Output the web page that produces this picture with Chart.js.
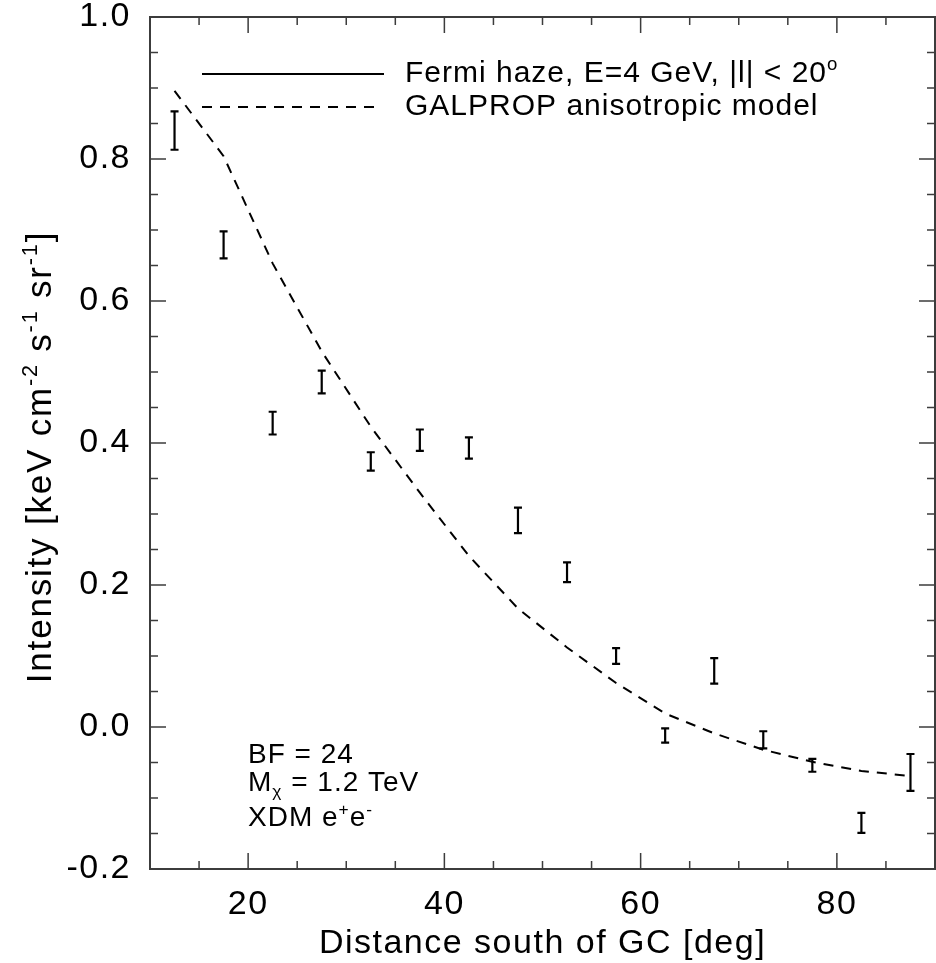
<!DOCTYPE html>
<html>
<head>
<meta charset="utf-8">
<script src="https://cdn.jsdelivr.net/npm/chart.js@4.4.1/dist/chart.umd.min.js"></script>
<style>
  html,body{margin:0;padding:0;background:#fff;}
  canvas{display:block;}
</style>
</head>
<body>
<canvas id="haze" width="936" height="963"></canvas>
<script>
/* Fermi haze profile vs. GALPROP model */

const distance   = [12.5,17.5,22.5,27.5,32.5,37.5,42.5,47.5,52.5,57.5,62.5,67.5,72.5,77.5,82.5,87.5];
const fermiHaze  = [0.840,0.679,0.428,0.486,0.374,0.404,0.393,0.291,0.218,0.100,-0.012,0.079,-0.018,-0.054,-0.135,-0.064];
const fermiErr   = [0.027,0.019,0.016,0.016,0.013,0.015,0.015,0.018,0.014,0.011,0.010,0.018,0.012,0.009,0.014,0.026];
const galprop    = [0.896,0.804,0.653,0.529,0.423,0.330,0.241,0.167,0.112,0.062,0.019,-0.009,-0.032,-0.049,-0.062,-0.069];

const xTicks      = [20,40,60,80];
const yTicks      = [-0.2,0.0,0.2,0.4,0.6,0.8,1.0];
const yTickLabels = ['-0.2','0.0','0.2','0.4','0.6','0.8','1.0'];

const FONT = '"Liberation Sans", Arial, Helvetica, sans-serif';
const AXIS = '#3c3c3c';

/* text with sub/superscripts, drawn left to right from x */
function richWidth(ctx, parts, size){
  let w = 0;
  parts.forEach(([t,m])=>{ ctx.font = `${m?size*0.62:size}px ${FONT}`; w += ctx.measureText(t).width; });
  return w;
}
function drawRich(ctx, parts, x, y, size){
  let cx = x;
  parts.forEach(([t,m])=>{
    const fs = m ? size*0.62 : size;
    ctx.font = `${fs}px ${FONT}`;
    const dy = m==='sup' ? -size*0.40 : m==='sub' ? size*0.22 : 0;
    ctx.fillText(t, cx, y+dy);
    cx += ctx.measureText(t).width;
  });
}

/* error bars through the chart scales */
const errorBars = {
  id:'errorBars',
  afterDatasetsDraw(chart){
    const {ctx, scales:{x,y}} = chart;
    ctx.save();
    ctx.strokeStyle = '#000'; ctx.lineWidth = 2.2;
    distance.forEach((d,i)=>{
      const px  = x.getPixelForValue(d);
      const top = y.getPixelForValue(fermiHaze[i]+fermiErr[i]);
      const bot = y.getPixelForValue(fermiHaze[i]-fermiErr[i]);
      ctx.beginPath();
      ctx.moveTo(px,top); ctx.lineTo(px,bot);
      ctx.moveTo(px-4,top); ctx.lineTo(px+4,top);
      ctx.moveTo(px-4,bot); ctx.lineTo(px+4,bot);
      ctx.stroke();
    });
    ctx.restore();
  }
};

/* IDL style frame: ticks pointing inward on all four sides */
const frame = {
  id:'frame',
  beforeDraw(chart){ chart.ctx.letterSpacing = '1.5px'; },
  afterDraw(chart){
    const {ctx, chartArea:a, scales:{x,y}} = chart;
    ctx.save();
    ctx.strokeStyle = AXIS; ctx.lineWidth = 2;
    ctx.strokeRect(a.left, a.top, a.right-a.left, a.bottom-a.top);
    ctx.lineWidth = 1.5;
    ctx.beginPath();
    for(let v=10; v<=90; v+=5){
      const px = x.getPixelForValue(v), len = v%20===0 ? 16 : 8;
      ctx.moveTo(px,a.bottom); ctx.lineTo(px,a.bottom-len);
      ctx.moveTo(px,a.top);    ctx.lineTo(px,a.top+len);
    }
    for(let k=0; k<=24; k++){
      const v = -0.2 + k*0.05, py = y.getPixelForValue(v), len = k%4===0 ? 16 : 8;
      ctx.moveTo(a.left,py);  ctx.lineTo(a.left+len,py);
      ctx.moveTo(a.right,py); ctx.lineTo(a.right-len,py);
    }
    ctx.stroke();

    ctx.fillStyle = '#000';
    ctx.letterSpacing = '1px';
    ctx.textBaseline = 'alphabetic'; ctx.textAlign = 'left';

    /* legend */
    ctx.strokeStyle = '#000'; ctx.lineWidth = 2;
    ctx.beginPath(); ctx.moveTo(a.left+52,74); ctx.lineTo(a.left+234,74); ctx.stroke();
    ctx.setLineDash([10,8]);
    ctx.beginPath(); ctx.moveTo(a.left+52,107); ctx.lineTo(a.left+226,107); ctx.stroke();
    ctx.setLineDash([]);
    drawRich(ctx, [['Fermi haze, E=4 GeV, |l| < 20',''],['o','sup']], a.left+255, 82, 30);
    drawRich(ctx, [['GALPROP anisotropic model','']], a.left+255, 115, 30);

    /* model parameters */
    drawRich(ctx, [['BF = 24','']], a.left+98, 763, 28);
    drawRich(ctx, [['M',''],['χ','sub'],[' = 1.2 TeV','']], a.left+98, 791, 28);
    drawRich(ctx, [['XDM e',''],['+','sup'],['e',''],['-','sup']], a.left+98, 826, 28);

    /* y axis title */
    const yTitle = [['Intensity [keV cm',''],['-2','sup'],[' s',''],['-1','sup'],[' sr',''],['-1','sup'],[']','']];
    ctx.letterSpacing = '1.8px';
    const w = richWidth(ctx, yTitle, 35);
    ctx.translate(51, (a.top+a.bottom)/2 + 14);
    ctx.rotate(-Math.PI/2);
    drawRich(ctx, yTitle, -w/2, 0, 35);
    ctx.restore();
  }
};

new Chart(document.getElementById('haze'), {
  type:'scatter',
  data:{
    datasets:[
      { label:'GALPROP anisotropic model', type:'line',
        data:distance.map((d,i)=>({x:d, y:galprop[i]})),
        borderColor:'#000', borderWidth:2, borderDash:[10,8],
        pointRadius:0, fill:false, tension:0 },
      { label:'Fermi haze, E=4 GeV',
        data:distance.map((d,i)=>({x:d, y:fermiHaze[i]})),
        pointRadius:0 }
    ]
  },
  options:{
    responsive:false, animation:false, events:[],
    layout:{padding:{top:17, right:1, left:0, bottom:0}},
    plugins:{legend:{display:false}, tooltip:{enabled:false}},
    scales:{
      x:{
        type:'linear', min:10, max:90,
        grid:{display:false}, border:{display:false},
        afterBuildTicks:s=>{ s.ticks = xTicks.map(v=>({value:v})); },
        afterFit:s=>{ s.height = 94; s.paddingLeft = 0; s.paddingRight = 0; },
        ticks:{color:'#000', padding:7, maxRotation:0, font:{family:FONT, size:34}},
        title:{display:true, text:'Distance south of GC [deg]', color:'#000',
               padding:{top:0,bottom:-1}, font:{family:FONT, size:34}}
      },
      y:{
        type:'linear', min:-0.2, max:1.0,
        grid:{display:false}, border:{display:false},
        afterBuildTicks:s=>{ s.ticks = yTicks.map(v=>({value:v})); },
        afterFit:s=>{ s.width = 150; s.paddingTop = 0; s.paddingBottom = 0; },
        ticks:{color:'#000', padding:11, font:{family:FONT, size:34},
               callback:(v,i)=>yTickLabels[i]}
      }
    }
  },
  plugins:[errorBars, frame]
});
</script>
</body>
</html>
